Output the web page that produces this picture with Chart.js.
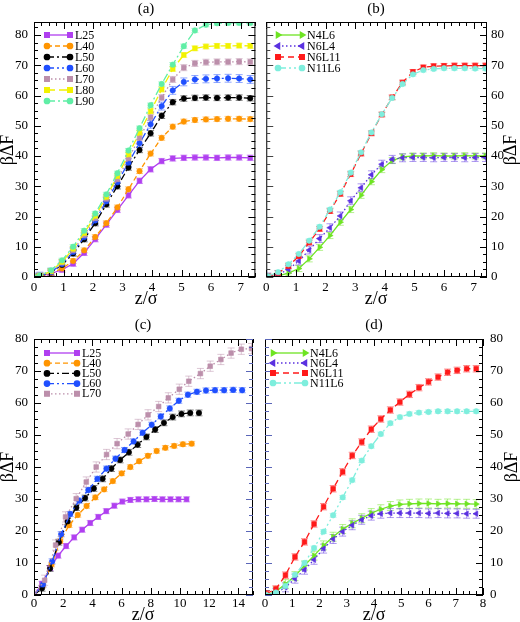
<!DOCTYPE html>
<html>
<head>
<meta charset="utf-8">
<script src="https://cdn.jsdelivr.net/npm/chart.js@4.4.1/dist/chart.umd.min.js"></script>
<style>
  html, body { margin: 0; padding: 0; background: #fff; }
  #wrap { position: relative; width: 520px; height: 622px; }
  canvas { position: absolute; }
</style>
</head>
<body>
<div id="wrap">
  <canvas id="pa" width="260" height="310" style="left:0;top:0"></canvas>
  <canvas id="pb" width="260" height="310" style="left:260px;top:0"></canvas>
  <canvas id="pc" width="260" height="312" style="left:0;top:310px"></canvas>
  <canvas id="pd" width="260" height="312" style="left:260px;top:310px"></canvas>
</div>
<script>
const FONT = '"Liberation Serif", "DejaVu Serif", serif'

// (a) free energy vs z, chains of length L
const zA = [0, 0.2, 0.575, 0.95, 1.325, 1.7, 2.075, 2.45, 2.825, 3.2, 3.575, 3.95, 4.325, 4.7, 5.075, 5.45, 5.825, 6.2, 6.575, 6.95, 7.325]
const L25a = [0, 0.3, 1.1, 2.4, 4.4, 8.0, 12.5, 17.3, 22.2, 27.0, 31.8, 35.6, 38.3, 39.2, 39.4, 39.5, 39.5, 39.4, 39.5, 39.5, 39.4]
const L40a = [0, 0.3, 1.3, 2.8, 5.3, 8.8, 13.2, 17.8, 23.0, 29.0, 35.0, 40.8, 46.0, 49.7, 51.4, 51.9, 52.1, 52.2, 52.3, 52.3, 52.2]
const L50a = [0, 0.3, 1.5, 4.0, 7.8, 12.5, 17.8, 24.0, 30.0, 36.2, 42.0, 47.5, 53.3, 57.8, 59.0, 59.2, 59.3, 59.2, 59.3, 59.3, 59.1]
const L60a = [0, 0.3, 1.6, 4.3, 8.3, 13.2, 18.7, 25.0, 31.3, 37.8, 44.2, 50.5, 56.5, 61.7, 64.5, 65.3, 65.5, 65.6, 65.7, 65.6, 65.3]
const L70a = [0, 0.4, 1.8, 4.7, 8.8, 13.8, 19.4, 25.8, 32.3, 39.2, 46.0, 52.8, 59.3, 65.3, 69.2, 70.6, 71.0, 71.1, 71.1, 71.2, 71.1]
const L80a = [0, 0.4, 1.9, 5.0, 9.3, 14.5, 20.2, 26.5, 33.3, 40.5, 47.7, 54.8, 62.0, 68.8, 73.4, 75.6, 76.2, 76.4, 76.4, 76.5, 76.4]
const L90a = [0, 0.5, 2.2, 5.5, 10.0, 15.3, 21.0, 27.3, 34.3, 41.8, 49.2, 56.8, 63.8, 70.2, 76.3, 81.5, 83.4, 83.9, 84.0, 84.0, 84.0]
const errA = [0.9, 0.8, 0.9, 1.3, 1.0, 0.8, 0.7]

// (b) N/L variants
const zB = [0.05, 0.4, 0.75, 1.1, 1.45, 1.8, 2.15, 2.5, 2.85, 3.2, 3.55, 3.9, 4.25, 4.6, 4.95, 5.3, 5.65, 6.0, 6.35, 6.7, 7.05, 7.4]
const N4L6b = [0, 0.4, 1.3, 2.8, 6.0, 9.8, 13.7, 18.1, 22.3, 27.0, 31.5, 35.5, 38.5, 39.7, 40.0, 40.0, 40.1, 40.0, 40.0, 40.1, 40.0, 40.0]
const N6L4b = [0, 0.8, 2.5, 5.3, 8.9, 12.7, 16.3, 20.2, 25.2, 29.5, 33.8, 37.3, 38.9, 39.4, 39.5, 39.5, 39.4, 39.5, 39.5, 39.4, 39.5, 39.5]
const N6L11b = [0.2, 1.3, 3.6, 6.9, 11.4, 15.9, 21.8, 27.5, 34.0, 40.8, 47.5, 53.7, 59.4, 64.3, 67.8, 69.3, 69.7, 69.8, 69.9, 69.9, 69.9, 69.9]
const N11L6b = [0.3, 1.6, 4.2, 7.6, 12.0, 16.6, 22.3, 28.0, 34.5, 41.2, 47.8, 53.8, 59.2, 63.8, 67.0, 68.4, 68.8, 69.0, 69.0, 69.0, 68.9, 68.9]
const errB = [1.0, 1.3, 0.8, 0.6]

// (c) each series has its own z sampling
const zC25 = [0, 0.55, 1.1, 1.65, 2.2, 2.75, 3.3, 3.85, 4.4, 4.95, 5.5, 6.05, 6.6, 7.15, 7.7, 8.25, 8.8, 9.35, 9.9, 10.45]
const L25c = [0, 3.5, 8.4, 12.3, 15.3, 18.0, 20.4, 22.5, 24.4, 26.2, 27.9, 29.2, 29.7, 29.9, 29.9, 30.0, 29.9, 29.9, 29.9, 29.9]
const zC40 = [0, 0.6, 1.2, 1.8, 2.4, 3.0, 3.6, 4.2, 4.8, 5.4, 6.0, 6.6, 7.2, 7.8, 8.4, 9.0, 9.6, 10.2, 10.8]
const L40c = [0, 3.0, 9.5, 16.8, 21.8, 25.0, 27.8, 30.5, 33.0, 35.6, 38.0, 40.0, 41.8, 43.5, 45.0, 46.0, 46.6, 47.1, 47.3]
const zC50 = [0, 0.55, 1.1, 1.7, 2.3, 2.9, 3.5, 4.1, 4.7, 5.3, 5.9, 6.5, 7.1, 7.7, 8.3, 8.9, 9.5, 10.1, 10.7, 11.3]
const L50c = [0, 2.1, 8.3, 16.5, 23.0, 27.3, 30.3, 33.3, 36.3, 39.5, 42.2, 44.6, 47.0, 49.4, 51.7, 53.8, 55.6, 56.6, 56.9, 56.9]
const zC60 = [0, 0.62, 1.24, 1.86, 2.48, 3.1, 3.72, 4.34, 4.96, 5.58, 6.2, 6.82, 7.44, 8.06, 8.68, 9.3, 9.92, 10.54, 11.16, 11.78, 12.4, 13.02, 13.64, 14.26]
const L60c = [0, 3.3, 10.5, 19.0, 25.3, 29.5, 32.8, 36.3, 39.5, 42.6, 45.3, 48.0, 50.7, 53.2, 55.8, 58.3, 60.7, 62.6, 63.5, 63.9, 64.0, 64.0, 64.1, 64.0]
const zC70 = [0, 0.73, 1.48, 2.16, 2.89, 3.58, 4.26, 4.97, 5.69, 6.45, 7.13, 7.81, 8.54, 9.2, 9.95, 10.6, 11.4, 12.07, 12.8, 13.5, 14.2, 14.9]
const L70c = [0, 4.6, 15.6, 24.4, 30.1, 35.3, 40.0, 43.9, 47.3, 50.3, 53.3, 56.3, 58.9, 61.6, 64.3, 66.8, 69.2, 71.5, 73.6, 75.6, 76.8, 77.0]
const errC = [0.8, 0.7, 0.9, 0.8, 1.6]

// (d)
const zD = [0.05, 0.4, 0.75, 1.1, 1.45, 1.8, 2.15, 2.5, 2.85, 3.2, 3.55, 3.9, 4.25, 4.6, 4.95, 5.3, 5.65, 6.0, 6.35, 6.7, 7.05, 7.4, 7.75]
const N4L6d = [0, 1.1, 3.4, 5.9, 9.2, 12.3, 15.5, 18.2, 20.6, 22.4, 24.0, 25.6, 26.8, 27.8, 28.3, 28.5, 28.6, 28.6, 28.5, 28.6, 28.5, 28.5, 28.4]
const N6L4d = [0, 0.6, 2.4, 5.1, 7.9, 11.0, 14.5, 17.5, 19.8, 21.8, 23.5, 24.8, 25.4, 25.6, 25.6, 25.6, 25.6, 25.5, 25.6, 25.5, 25.5, 25.4, 25.4]
const N6L11d = [0.4, 1.9, 6.2, 11.9, 16.6, 22.2, 27.6, 33.2, 38.5, 43.6, 47.8, 51.8, 55.0, 57.8, 60.3, 62.7, 64.8, 66.6, 68.1, 69.6, 70.2, 70.7, 70.7]
const N11L6d = [0, 0.8, 2.8, 6.3, 10.0, 14.7, 19.8, 24.9, 30.5, 35.9, 42.0, 46.5, 50.3, 53.7, 55.6, 56.6, 57.0, 57.2, 57.4, 57.4, 57.4, 57.4, 57.4]
const errD = [1.4, 1.4, 1.0, 0.6]

// line / marker look per series name
const STYLE = {
  L25:   { color: '#b03ff0', dash: [], marker: 'rect' },
  L40:   { color: '#ff9500', dash: [5, 3], marker: 'circle' },
  L50:   { color: '#000000', dash: [7, 3, 2, 3], marker: 'circle' },
  L60:   { color: '#1f4fff', dash: [7, 3, 2, 3, 2, 3], marker: 'circle' },
  L70:   { color: '#bc8fab', dash: [1.5, 2.5], marker: 'rect' },
  L80:   { color: '#f2f200', dash: [8, 4], marker: 'rect' },
  L90:   { color: '#60eea6', dash: [8, 3, 2, 3], marker: 'circle' },
  N4L6:  { color: '#6ee422', dash: [], marker: 'triangle', rot: 90 },
  N6L4:  { color: '#5a30e0', dash: [1.5, 2.5], marker: 'triangle', rot: -90 },
  N6L11: { color: '#ff1a1a', dash: [6, 4], marker: 'rect' },
  N11L6: { color: '#7eeedd', dash: [8, 3, 2, 3, 2, 3], marker: 'circle' },
}

function series(label, z, v, err, idx) {
  const st = STYLE[label]
  return {
    label,
    err,
    order: -idx, // later series drawn on top, as in the original
    data: z.map((x, i) => ({ x, y: v[i] })),
    borderColor: st.color,
    backgroundColor: st.color,
    pointBackgroundColor: st.color,
    pointBorderColor: st.color,
    borderWidth: 1.3,
    borderDash: st.dash,
    pointStyle: st.marker,
    pointRotation: st.rot || 0,
    pointRadius: st.marker === 'rect' ? 3.3 : (st.marker === 'triangle' ? 3.2 : 2.7),
    pointBorderWidth: 0.6,
  }
}

// frame with inward ticks, error bars, custom legend and the axis texts
const decor = {
  id: 'decor',
  beforeDatasetsDraw(chart) {
    const { ctx, chartArea: a, scales: { x, y } } = chart
    ctx.save()
    ctx.beginPath()
    ctx.rect(a.left, a.top, a.width, a.height)
    ctx.clip()
    ctx.lineWidth = 1
    chart.data.datasets.forEach(ds => {
      ctx.strokeStyle = ds.borderColor
      ctx.globalAlpha = 0.5
      ds.data.forEach(p => {
        const px = x.getPixelForValue(p.x)
        const y1 = y.getPixelForValue(p.y - ds.err)
        const y2 = y.getPixelForValue(p.y + ds.err)
        ctx.beginPath()
        ctx.moveTo(px, y1); ctx.lineTo(px, y2)
        ctx.moveTo(px - 3.5, y1); ctx.lineTo(px + 3.5, y1)
        ctx.moveTo(px - 3.5, y2); ctx.lineTo(px + 3.5, y2)
        ctx.stroke()
      })
    })
    ctx.restore()
  },
  afterDatasetsDraw(chart, args, o) {
    const { ctx, chartArea: a, scales: { x, y } } = chart
    ctx.save()
    ctx.lineWidth = 1
    ctx.strokeStyle = '#000'
    ctx.strokeRect(a.left + 0.5, a.top + 0.5, a.width - 1, a.height - 1)

    const tick = (x1, y1, x2, y2, color) => {
      ctx.strokeStyle = color
      ctx.beginPath(); ctx.moveTo(x1, y1); ctx.lineTo(x2, y2); ctx.stroke()
    }
    for (let k = 0; k * o.xminor <= x.max + 1e-9; k++) {
      const v = k * o.xminor
      const len = Math.abs(v / o.xstep - Math.round(v / o.xstep)) < 1e-6 ? 7 : 4
      const px = Math.round(x.getPixelForValue(v)) + 0.5
      tick(px, a.bottom, px, a.bottom - len, '#000')
      tick(px, a.top, px, a.top + len, '#000')
    }
    for (let k = 0; k * o.yminor <= y.max + 1e-9; k++) {
      const v = k * o.yminor
      const len = Math.abs(v / 10 - Math.round(v / 10)) < 1e-6 ? 7 : 4
      const py = Math.round(y.getPixelForValue(v)) + 0.5
      const near = o.side === 'left' ? a.left : a.right
      const far = o.side === 'left' ? a.right : a.left
      const dir = o.side === 'left' ? 1 : -1
      tick(near, py, near + dir * len, py, '#000')
      tick(far, py, far - dir * len, py, o.oppColor)
    }
    ctx.restore()
  },
  afterDraw(chart, args, o) {
    const { ctx } = chart
    const lg = o.legend
    ctx.save()
    chart.data.datasets.forEach((ds, i) => {
      const yy = lg.y0 + i * lg.dy
      ctx.strokeStyle = ds.borderColor
      ctx.lineWidth = ds.borderWidth
      ctx.setLineDash(ds.borderDash)
      ctx.beginPath(); ctx.moveTo(lg.x1, yy); ctx.lineTo(lg.x2, yy); ctx.stroke()
      ctx.setLineDash([])
      ctx.fillStyle = ds.pointBackgroundColor
      ctx.strokeStyle = ds.pointBorderColor
      const ps = { pointStyle: ds.pointStyle, rotation: ds.pointRotation, radius: ds.pointRadius, borderWidth: 0.6 }
      Chart.helpers.drawPoint(ctx, ps, lg.x1, yy)
      Chart.helpers.drawPoint(ctx, ps, lg.x2, yy)
      ctx.fillStyle = '#000'
      ctx.font = '12px ' + FONT
      ctx.textAlign = 'left'
      ctx.textBaseline = 'middle'
      ctx.fillText(ds.label, lg.tx, yy + 0.5)
    })

    ctx.fillStyle = '#000'
    ctx.textAlign = 'center'
    ctx.textBaseline = 'middle'
    ctx.font = '15px ' + FONT
    ctx.fillText(o.title.text, o.title.x, o.title.y)
    ctx.font = '18px ' + FONT
    ctx.fillText('z/σ', o.xTitle.x, o.xTitle.y)
    ctx.translate(o.yTitle.x, o.yTitle.y)
    ctx.rotate(-Math.PI / 2)
    ctx.fillText('βΔF', 0, 0)
    ctx.restore()
  },
}

function panel(id, datasets, o) {
  const tickFont = { family: FONT, size: 13 }
  return new Chart(document.getElementById(id), {
    type: 'line',
    data: { datasets },
    options: {
      responsive: false,
      animation: false,
      devicePixelRatio: 1,
      layout: { padding: o.pad },
      plugins: { legend: { display: false }, tooltip: { enabled: false }, decor: o },
      scales: {
        x: {
          type: 'linear', min: 0, max: o.xmax,
          afterFit: s => { s.height = o.xh },
          ticks: { stepSize: o.xstep, includeBounds: false, autoSkip: false, maxRotation: 0, padding: o.xpad, color: '#000', font: tickFont },
          grid: { display: false, drawTicks: false },
          border: { display: false },
        },
        y: {
          type: 'linear', position: o.side, min: 0, max: o.ymax,
          afterFit: s => { s.width = o.yw },
          ticks: { stepSize: 10, includeBounds: false, autoSkip: false, padding: o.ypad, color: '#000', font: tickFont },
          grid: { display: false, drawTicks: false },
          border: { display: false },
        },
      },
    },
    plugins: [decor],
  })
}

panel('pa', [
  series('L25', zA, L25a, errA[0], 0),
  series('L40', zA, L40a, errA[1], 1),
  series('L50', zA, L50a, errA[2], 2),
  series('L60', zA, L60a, errA[3], 3),
  series('L70', zA, L70a, errA[4], 4),
  series('L80', zA, L80a, errA[5], 5),
  series('L90', zA, L90a, errA[6], 6),
], {
  side: 'left', pad: { top: 22, right: 2, left: 0, bottom: 0 }, xh: 33, yw: 34,
  xmax: 7.5, xstep: 1, xminor: 0.25, ymax: 84.3, yminor: 2.5, xpad: 3, ypad: 6, oppColor: '#000',
  title: { text: '(a)', x: 146, y: 9 }, xTitle: { x: 146, y: 299 }, yTitle: { x: 8, y: 150 },
  legend: { x1: 47, x2: 70, tx: 75, y0: 35, dy: 11 },
})

panel('pb', [
  series('N4L6', zB, N4L6b, errB[0], 0),
  series('N6L4', zB, N6L4b, errB[1], 1),
  series('N6L11', zB, N6L11b, errB[2], 2),
  series('N11L6', zB, N11L6b, errB[3], 3),
], {
  side: 'right', pad: { top: 22, right: 0, left: 5, bottom: 0 }, xh: 33, yw: 33,
  xmax: 7.45, xstep: 1, xminor: 0.25, ymax: 84.3, yminor: 2.5, xpad: 3, ypad: 4, oppColor: '#444',
  title: { text: '(b)', x: 116, y: 9 }, xTitle: { x: 116, y: 299 }, yTitle: { x: 251, y: 150 },
  legend: { x1: 18, x2: 42, tx: 47, y0: 35, dy: 11 },
})

panel('pc', [
  series('L25', zC25, L25c, errC[0], 0),
  series('L40', zC40, L40c, errC[1], 1),
  series('L50', zC50, L50c, errC[2], 2),
  series('L60', zC60, L60c, errC[3], 3),
  series('L70', zC70, L70c, errC[4], 4),
], {
  side: 'left', pad: { top: 29, right: 7, left: 0, bottom: 0 }, xh: 27, yw: 34,
  xmax: 15, xstep: 2, xminor: 0.5, ymax: 80, yminor: 2.5, xpad: 1, ypad: 6, oppColor: '#5a66b8',
  title: { text: '(c)', x: 143, y: 15 }, xTitle: { x: 143, y: 305 }, yTitle: { x: 8, y: 157 },
  legend: { x1: 47, x2: 77, tx: 82, y0: 43, dy: 10.2 },
})

panel('pd', [
  series('N4L6', zD, N4L6d, errD[0], 0),
  series('N6L4', zD, N6L4d, errD[1], 1),
  series('N6L11', zD, N6L11d, errD[2], 2),
  series('N11L6', zD, N11L6d, errD[3], 3),
], {
  side: 'right', pad: { top: 29, right: 0, left: 5, bottom: 0 }, xh: 27, yw: 37,
  xmax: 8, xstep: 1, xminor: 0.25, ymax: 80, yminor: 2.5, xpad: 1, ypad: 7, oppColor: '#5a66b8',
  title: { text: '(d)', x: 114, y: 15 }, xTitle: { x: 114, y: 305 }, yTitle: { x: 252, y: 157 },
  legend: { x1: 13, x2: 45, tx: 50, y0: 43, dy: 10 },
})
</script>
</body>
</html>
